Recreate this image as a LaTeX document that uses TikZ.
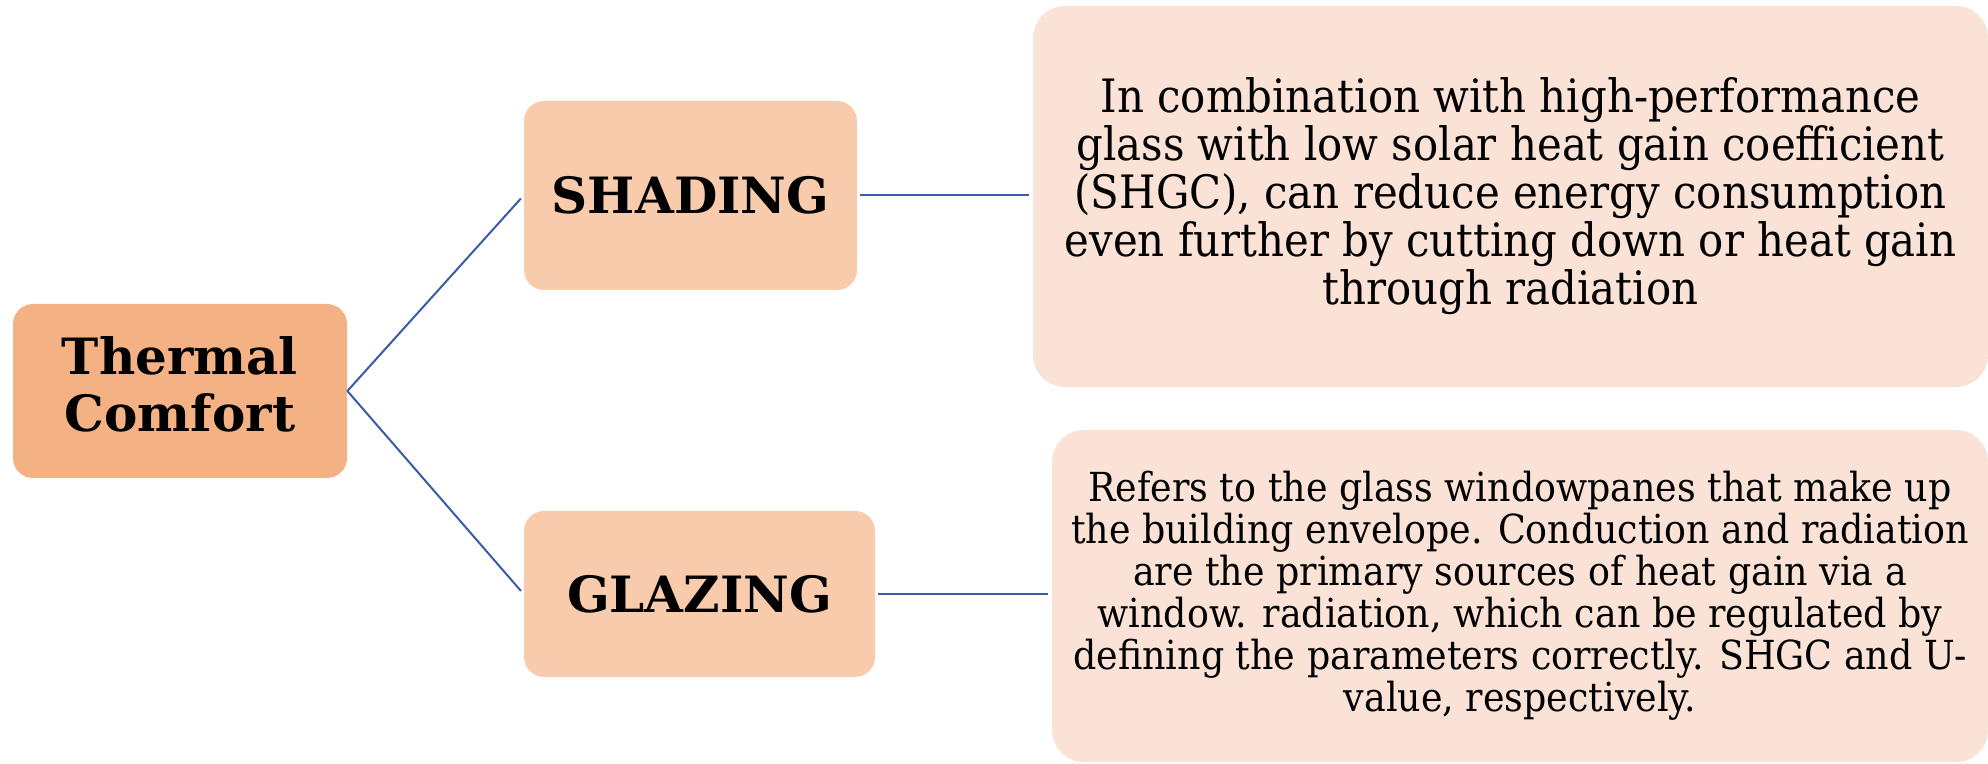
\documentclass[tikz,border=0pt]{standalone}
\usepackage{fontspec}
\setmainfont{DejaVu Serif}
\newfontfamily\descfont[FakeStretch=0.91]{DejaVu Serif}
\newfontfamily\titlefont{DejaVu Serif}
\definecolor{tcfill}{HTML}{F4B183}
\definecolor{midfill}{HTML}{F8CBAD}
\definecolor{descfill}{HTML}{FAE3D6}
\definecolor{conncol}{HTML}{3A5BA5}
\begin{document}
\begin{tikzpicture}[x=0.5pt,y=-0.5pt,
  titlebox/.style={inner sep=0pt, align=center, rounded corners=10pt,
    font=\titlefont\bfseries\fontsize{25}{28.5}\selectfont},
  titletext/.style={inner sep=0pt, align=center,
    font=\titlefont\bfseries\fontsize{25}{28.5}\selectfont},
  descbox/.style={inner sep=0pt, align=center, fill=descfill, rounded corners=16pt},
  conn/.style={draw=conncol, line width=1pt}]
\useasboundingbox (0,0) rectangle (1988,764);
\node[titlebox, fill=tcfill, minimum width=167pt, minimum height=87pt] (tc) at (180,391) {};
\node[titletext] (tct) at ([yshift=3.5pt]tc.center) {Thermal\\Comfort};
\node[titlebox, fill=midfill, minimum width=166.5pt, minimum height=94.5pt] (sh) at (690.5,195.5) {SHADING};
\node[titlebox, fill=midfill, minimum width=175.5pt, minimum height=83pt] (gl) at (699.5,594) {GLAZING};
\node[descbox, minimum width=477.5pt, minimum height=190.5pt, font=\descfont\fontsize{23}{24}\selectfont] (d1) at (1510.5,196.5)
 {In combination with high-performance\\glass with low solar heat gain coefficient\\(SHGC), can reduce energy consumption\\even further by cutting down or heat gain\\through radiation};
\node[descbox, minimum width=468pt, minimum height=166pt, font=\descfont\fontsize{20}{21}\selectfont] (d2) at (1520,596)
 {Refers to the glass windowpanes that make up\\the building envelope. Conduction and radiation\\are the primary sources of heat gain via a\\window. radiation, which can be regulated by\\defining the parameters correctly. SHGC and U-\\value, respectively.};
\draw[conn, shorten >=2pt] (tc.east) -- (sh.west);
\draw[conn, shorten >=2pt] (tc.east) -- (gl.west);
\draw[conn, shorten <=1.5pt, shorten >=2pt] (sh.east) -- (d1.west |- sh.east);
\draw[conn, shorten <=1.5pt, shorten >=2pt] (gl.east) -- (d2.west |- gl.east);
\end{tikzpicture}
\end{document}
